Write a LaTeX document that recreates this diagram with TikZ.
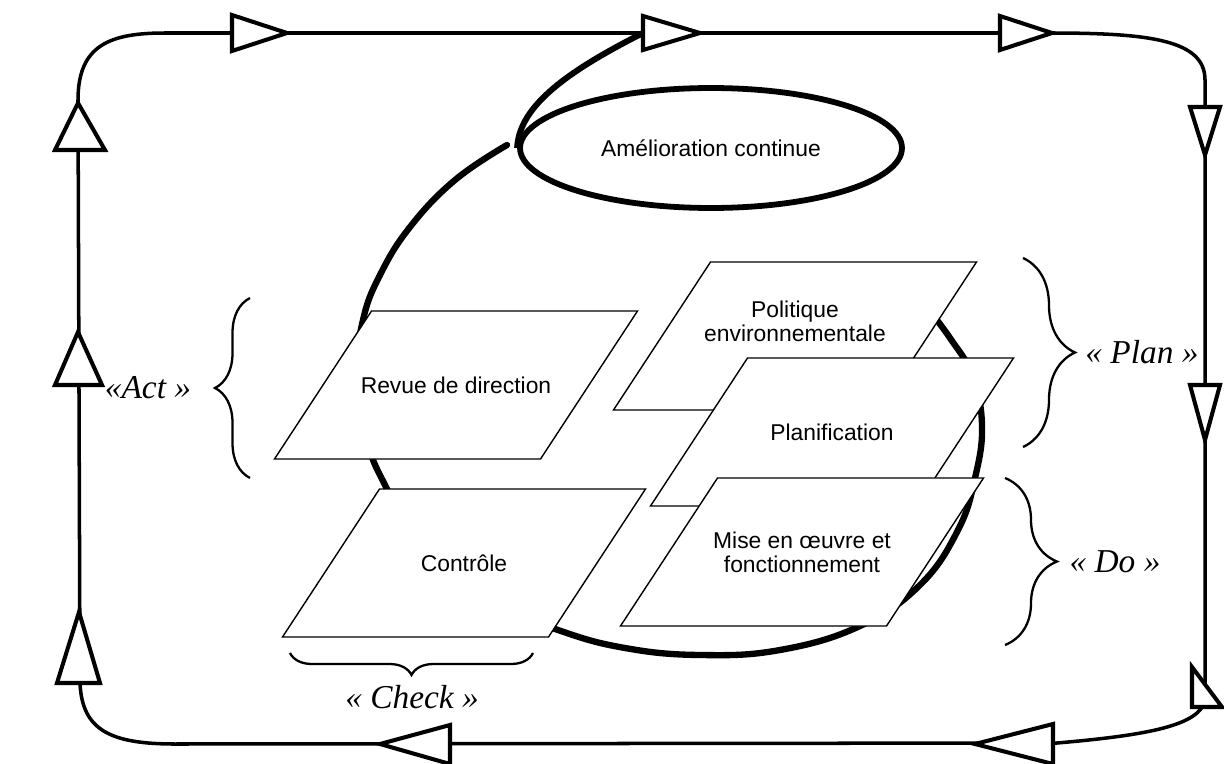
\documentclass[tikz,border=0pt]{standalone}
\usepackage{fontspec}
\setmainfont{Liberation Serif}
\setsansfont{Liberation Sans}
\usepackage{tikz}
\usetikzlibrary{shapes.geometric, positioning, decorations.pathreplacing}

\newcommand{\boxfont}{\sffamily\fontsize{13}{13.5}\selectfont}
\newcommand{\phasefont}{\itshape\fontsize{19}{21}\selectfont}
% parallelogram stage: [text options]{name}{centre}{text}
\newcommand{\stage}[4][]{%
  \filldraw[stageshape] (#3) ++(-84.5,-74) -- ++(266,0) -- ++(-97,148) -- ++(-266,0) -- cycle;
  \node[stagetext,#1] (#2) at (#3) {#4};}

\tikzset{
  stageshape/.style={draw, fill=white, line width=0.8pt},
  stagetext/.style={align=center, font=\boxfont, inner sep=2pt},
  loopline/.style={line width=2pt},
  flowtri/.style={draw, fill=white, line width=2.3pt, line join=miter},
  phasebrace/.style={decorate, line width=1.3pt},
  phase/.style={font=\phasefont, inner sep=0pt}
}

\begin{document}
\begin{tikzpicture}[x=0.02cm, y=-0.02cm]
\useasboundingbox (0,0) rectangle (1224,764);

% outer loop
\coordinate (bl) at (80,683);
\coordinate (tl) at (78,100);
\coordinate (tr) at (1205,80);
\coordinate (br) at (1205,700);
\draw[loopline] (bl) -- (tl) .. controls (78,45) and (110,33) .. (165,33) -- (1050,33)
  .. controls (1150,33) and (1205,40) .. (tr) -- (br)
  .. controls (1200,725) and (1150,735) .. (1057,743) -- (175,744)
  .. controls (110,744) and (82,730) .. (bl);

% arrow marks on the loop
\draw[flowtri] (232,15) -- (287,33) -- (232,51) -- cycle;
\draw[flowtri] (643,16) -- (700,33) -- (643,50) -- cycle;
\draw[flowtri] (1000,16) -- (1052,33) -- (1000,50) -- cycle;
\draw[flowtri] (1190,107) -- (1205,155) -- (1220,107) -- cycle;
\draw[flowtri] (1190,385) -- (1205,440) -- (1220,385) -- cycle;
\draw[flowtri] (1192,667) -- (1192,707) -- (1222,707) -- cycle;
\draw[flowtri] (1053,724) -- (975,744) -- (1053,764) -- cycle;
\draw[flowtri] (450,725) -- (380,744) -- (450,764) -- cycle;
\draw[flowtri] (57,683) -- (79,612) -- (100,683) -- cycle;
\draw[flowtri] (55,385) -- (78,332) -- (102,385) -- cycle;
\draw[flowtri] (55,150) -- (78,103) -- (105,150) -- cycle;

% inner cycle
\draw[line width=3.6pt, line cap=round] plot[smooth, tension=0.7] coordinates {
  (507,145) (455,180) (410,227) (380,275) (363,320) (357,375) (367,440) (385,485)
  (420,545) (480,598) (558,630) (625,648) (700,655) (780,650) (860,626) (920,585)
  (958,530) (975,478) (982,425) (972,375) (950,338) (925,305)};

\node[ellipse, draw, line width=3.3pt, fill=white, minimum width=7.64cm, minimum height=2.4cm, font=\boxfont] (amel) at (711,148) {Amélioration continue};
\draw[line width=3.4pt] (amel.west) .. controls (519,105) and (570,70) .. (643,33);

% stages
\stage[yshift=0.3cm]{politique}{795,336}{Politique\\environnementale}
\stage{planif}{832,432}{Planification}
\stage{miseoeuvre}{802,552}{Mise en œuvre et\\fonctionnement}
\stage{revue}{456,385}{Revue de direction}
\stage{controle}{464,563}{Contrôle}

% braces and phases
\draw[phasebrace, decoration={brace, amplitude=0.7cm}] (250,478) -- (250,298);
\draw[phasebrace, decoration={brace, amplitude=1.04cm}] (1023,258) -- (1023,447);
\draw[phasebrace, decoration={brace, amplitude=1.04cm}] (1005,478) -- (1005,645);
\draw[phasebrace, decoration={brace, amplitude=0.44cm}] (533,653) -- (290,653);

\node[phase] (act) at (148,388) {«Act »};
\node[phase] (plan) at (1142,352) {« Plan »};
\node[phase] (do) at (1115,562) {« Do »};
\node[phase] (check) at (412,697) {« Check »};
\end{tikzpicture}
\end{document}
